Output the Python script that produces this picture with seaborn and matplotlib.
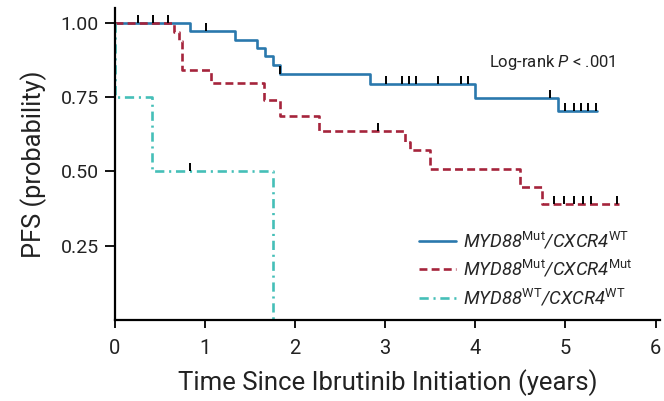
import matplotlib
matplotlib.use("Agg")
import matplotlib.pyplot as plt
import seaborn as sns
import pandas as pd
import numpy as np

# ---- data ----
groups = [r"MYD88$^{\mathrm{Mut}}$/CXCR4$^{\mathrm{WT}}$",
          r"MYD88$^{\mathrm{Mut}}$/CXCR4$^{\mathrm{Mut}}$",
          r"MYD88$^{\mathrm{WT}}$/CXCR4$^{\mathrm{WT}}$"]

wt_times = [0, 0.83, 1.33, 1.58, 1.67, 1.76, 1.83, 2.83, 4.00, 4.92, 5.35]
wt_surv = [1.00, 0.972, 0.942, 0.915, 0.888, 0.857, 0.827, 0.793, 0.747, 0.705, 0.705]
wt_cens_t = [0.26, 0.42, 0.59, 1.01, 1.83, 3.01, 3.19, 3.26, 3.34, 3.59, 3.84, 3.92,
             4.83, 5.00, 5.09, 5.17, 5.25, 5.34]
wt_cens_s = [1.00, 1.00, 1.00, 0.972, 0.827, 0.793, 0.793, 0.793, 0.793, 0.793, 0.793, 0.793,
             0.747, 0.705, 0.705, 0.705, 0.705, 0.705]

mut_times = [0, 0.66, 0.71, 0.74, 1.07, 1.66, 1.83, 2.26, 3.22, 3.27, 3.50, 4.50, 4.74, 5.59]
mut_surv = [1.00, 0.97, 0.94, 0.843, 0.796, 0.742, 0.688, 0.635, 0.60, 0.572, 0.508, 0.446, 0.39, 0.39]
mut_cens_t = [2.92, 4.87, 4.98, 5.10, 5.20, 5.28, 5.57]
mut_cens_s = [0.635, 0.39, 0.39, 0.39, 0.39, 0.39, 0.39]

wtwt_times = [0, 0, 0.41, 1.75]
wtwt_surv = [1.00, 0.75, 0.50, 0.0]
wtwt_cens_t = [0.83]
wtwt_cens_s = [0.50]

x_ticks = [0, 1, 2, 3, 4, 5, 6]
y_ticks = [0.25, 0.50, 0.75, 1.00]
y_tick_labels = ["0.25", "0.50", "0.75", "1.00"]

colors = ["#2a78ad", "#a5243c", "#45bfb8"]

# ---- build tables ----
curves = pd.concat([
    pd.DataFrame({"t": wt_times, "s": wt_surv, "g": groups[0]}),
    pd.DataFrame({"t": mut_times, "s": mut_surv, "g": groups[1]}),
    pd.DataFrame({"t": wtwt_times, "s": wtwt_surv, "g": groups[2]}),
], ignore_index=True)
cens = pd.DataFrame({"t": wt_cens_t + mut_cens_t + wtwt_cens_t,
                     "s": wt_cens_s + mut_cens_s + wtwt_cens_s})

sns.set_style("ticks")
plt.rcParams["font.family"] = ["Roboto", "DejaVu Sans"]
plt.rcParams["mathtext.fontset"] = "custom"
plt.rcParams["mathtext.it"] = "Roboto:italic"
plt.rcParams["mathtext.rm"] = "Roboto"

fig = plt.figure(figsize=(6.64, 4.01), dpi=100)
ax = fig.add_axes([0.173, 0.202, 0.821, 0.778])

palette = dict(zip(groups, colors))
dashes = {groups[0]: "", groups[1]: (3.0, 1.6), groups[2]: (3.5, 1.8, 0.8, 1.8)}

sns.lineplot(data=curves, x="t", y="s", hue="g", style="g", palette=palette,
             dashes=dashes, hue_order=groups, style_order=groups,
             estimator=None, sort=False, drawstyle="steps-post",
             linewidth=1.9, ax=ax, legend=True)

sns.scatterplot(data=cens, x="t", y="s", marker=2, color="black", s=35,
                linewidth=1.4, ax=ax, legend=False, zorder=5)

ax.set_xlim(0, 6.05)
ax.set_ylim(0, 1.05)
ax.set_xticks(x_ticks)
ax.set_yticks(y_ticks)
ax.set_yticklabels(y_tick_labels)
ax.tick_params(axis="both", width=1.3, colors="black", labelcolor="#222222")
ax.tick_params(axis="y", labelsize=14, length=7, pad=4.5)
ax.tick_params(axis="x", labelsize=14.5, length=6, pad=8)
for sp in ["left", "bottom"]:
    ax.spines[sp].set_linewidth(1.6)
    ax.spines[sp].set_color("black")
sns.despine(ax=ax)

ax.set_xlabel("Time Since Ibrutinib Initiation (years)", fontsize=18.5,
              color="#222222", labelpad=8)
ax.set_ylabel("PFS (probability)", fontsize=18.3, color="#222222", labelpad=10)

ax.text(0.687, 0.81, r"Log-rank $\mathit{P}$ < .001", transform=ax.transAxes,
        fontsize=12, color="#222222")

leg = ax.legend(loc="lower right", bbox_to_anchor=(0.98, -0.015), frameon=False,
                prop={"size": 13.3, "style": "italic"}, handlelength=2.0,
                labelspacing=0.38, handletextpad=0.4, title=None)

fig.savefig("out.png", dpi=100)
